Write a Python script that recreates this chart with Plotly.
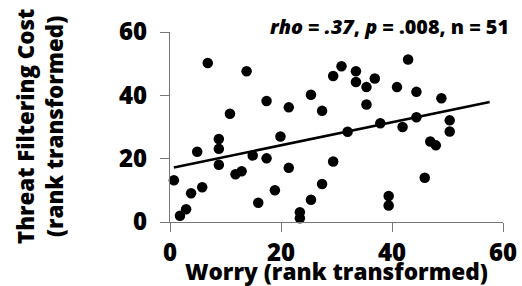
import plotly.graph_objects as go

worry = [0.7, 1.8, 2.9, 3.8, 4.9, 5.8, 6.8, 8.8, 8.8, 8.8, 10.8, 11.8, 12.9, 13.8, 14.9,
         15.9, 17.4, 17.4, 18.9, 19.9, 21.4, 21.4, 23.4, 23.4, 25.4, 25.4, 27.4, 27.4,
         29.4, 29.4, 30.9, 32.0, 33.5, 33.5, 35.4, 35.4, 36.9, 37.9, 39.4, 39.4, 40.9,
         41.9, 42.9, 44.4, 44.4, 45.9, 46.9, 47.9, 48.9, 50.4, 50.4]
threat = [13.2, 2.0, 4.0, 9.1, 22.2, 11.0, 50.2, 26.2, 23.1, 18.1, 34.2, 15.1, 16.0, 47.6, 21.0,
          6.1, 38.2, 20.1, 10.0, 27.0, 36.2, 17.1, 3.1, 1.2, 7.0, 40.2, 35.1, 12.0,
          46.1, 19.1, 49.2, 28.5, 47.6, 44.2, 42.6, 37.1, 45.3, 31.2, 8.2, 5.2, 42.6,
          30.0, 51.3, 41.1, 33.1, 14.0, 25.4, 24.2, 39.1, 32.1, 28.6]
fit_x = [0.7, 57.6]
fit_y = [17.2, 37.9]
ticks = [0, 20, 40, 60]

FONT = "Open Sans"

fig = go.Figure()
fig.add_trace(go.Scatter(x=fit_x, y=fit_y, mode="lines",
                         line=dict(color="black", width=2.6), cliponaxis=False,
                         showlegend=False, hoverinfo="skip"))
fig.add_trace(go.Scatter(x=worry, y=threat, mode="markers",
                         marker=dict(color="black", size=10.5, line=dict(width=0)),
                         cliponaxis=False, showlegend=False))

axis_common = dict(range=[0, 60], tickvals=ticks, showgrid=False, zeroline=False,
                   showline=True, linecolor="#777777", linewidth=1.2, automargin=False,
                   ticks="outside", ticklen=9, tickcolor="#777777", tickwidth=1.2,
                   tickfont=dict(family=FONT, size=24, color="black", weight=800))

fig.update_xaxes(**axis_common, ticklabelstandoff=0)
fig.update_yaxes(**axis_common, ticklabelstandoff=8)

fig.add_annotation(x=1, y=1, xref="paper", yref="paper", xanchor="right", yanchor="middle",
                   xshift=8, yshift=6, showarrow=False,
                   text="<i>rho</i> = <i>.37</i>, <i>p</i> = .008, n = 51",
                   font=dict(family=FONT, size=19.8, color="black", weight=800))
fig.add_annotation(x=0.5, y=0, xref="paper", yref="paper", xanchor="center", yanchor="top",
                   yshift=-32, showarrow=False, text="Worry (rank transformed)",
                   font=dict(family=FONT, size=22.6, color="black", weight=800))
fig.add_annotation(x=0, y=0.5, xref="paper", yref="paper", xanchor="center", yanchor="middle",
                   xshift=-130, yshift=0, showarrow=False, textangle=-90,
                   text="Threat Filtering Cost<br>(rank transformed)",
                   font=dict(family=FONT, size=22.3, color="black", weight=800))

fig.update_layout(width=522, height=286, margin=dict(l=170, r=19, t=32, b=64),
                  plot_bgcolor="white", paper_bgcolor="white")
fig.write_html("out.html", config={"displayModeBar": False},
               post_script="document.body.style.margin='0px';")
